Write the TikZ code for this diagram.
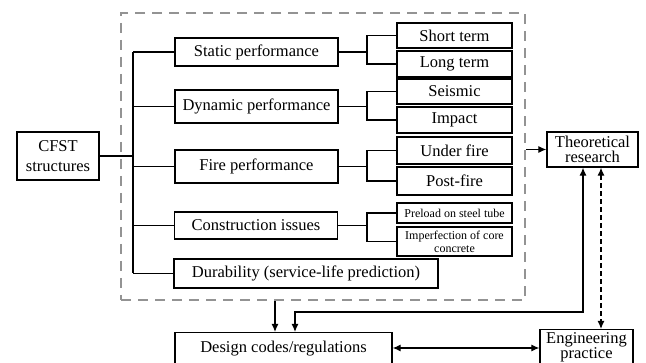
\documentclass[tikz,border=0pt]{standalone}
\usepackage{fontspec}
\setmainfont{Liberation Serif}
\usetikzlibrary{arrows.meta}
\begin{document}
\begin{tikzpicture}[x=1pt,y=-1pt,
  box/.style={draw, line width=1.3pt, inner sep=0pt, align=center, font=\fontsize{16.5}{16}\selectfont},
  sbox/.style={draw, line width=1.3pt, inner sep=0pt, align=center, font=\fontsize{12}{13}\selectfont},
  conn/.style={line width=1.1pt},
  arr/.style={line width=1.2pt, -{Latex[length=8pt,width=7pt]}},
  darr/.style={line width=1.2pt, {Latex[length=8pt,width=7pt]}-{Latex[length=8pt,width=7pt]}},
  grpbox/.style={draw=gray!85, line width=1.8pt, dash pattern=on 10pt off 7pt, inner sep=0pt}
]
\useasboundingbox (0,0) rectangle (646,363);
\clip (0,0) rectangle (646,363);
% group
\node[grpbox, minimum width=404pt, minimum height=287pt] (grp) at (323,156.5) {};
% main boxes
\node[box, minimum width=82pt, minimum height=48pt, font=\fontsize{16.5}{20}\selectfont] (cfst) at (58,156) {CFST\\structures};
\node[box, minimum width=163pt, minimum height=28pt] (stat) at (256.5,52) {Static performance};
\node[box, minimum width=163pt, minimum height=33pt] (dyn) at (256.5,106.5) {Dynamic performance};
\node[box, minimum width=163pt, minimum height=33pt] (fire) at (256.5,166.5) {Fire performance};
\node[box, minimum width=163pt, minimum height=27pt] (cons) at (256,225.5) {Construction issues};
\node[box, minimum width=264pt, minimum height=29pt] (dur) at (306,273.5) {Durability (service-life prediction)};
% sub boxes
\node[box, minimum width=115pt, minimum height=25pt] (st) at (454.5,35.5) {Short term};
\node[box, minimum width=115pt, minimum height=26pt] (lt) at (454.5,64) {Long term};
\node[box, minimum width=115pt, minimum height=25pt] (seis) at (454.5,91.5) {Seismic};
\node[box, minimum width=115pt, minimum height=26pt] (imp) at (454.5,120) {Impact};
\node[box, minimum width=115pt, minimum height=27pt] (uf) at (454.5,150.5) {Under fire};
\node[box, minimum width=115pt, minimum height=28pt] (pf) at (454.5,181) {Post-fire};
\node[sbox, minimum width=115pt, minimum height=20pt] (pre) at (454.5,213) {Preload on steel tube};
\node[sbox, minimum width=115pt, minimum height=29pt] (impf) at (454.5,241.5) {Imperfection of core\\concrete};
% right and bottom boxes
\node[box, minimum width=91pt, minimum height=35pt, font=\fontsize{16.5}{15}\selectfont] (theo) at (592.5,149.5) {Theoretical\\research};
\node[box, minimum width=217pt, minimum height=40pt, anchor=north] (des) at (283.5,332) {};
\node[font=\fontsize{16.5}{16}\selectfont, anchor=base] (destxt) at (283.5,353) {Design codes/regulations};
\node[box, minimum width=93pt, minimum height=46pt, anchor=north] (eng) at (586.5,329) {};
\node[font=\fontsize{16.5}{14}\selectfont, align=center, anchor=north] (engtxt) at (586.5,329) {Engineering\\practice};
% trunk
\coordinate (tr) at (133,0);
\coordinate (fk) at (367,0);
\draw[conn] (cfst.east) -- (cfst.east -| tr);
\draw[conn] (stat.west -| tr) -- (dur.west -| tr);
\foreach \n in {stat,dyn,fire,cons,dur} \draw[conn] (\n.west -| tr) -- (\n.west);
% forks
\draw[conn] (stat.east) -- (stat.east -| fk);
\draw[conn] (st.west) -| (fk |- st.west) |- (lt.west);
\draw[conn] (dyn.east) -- (dyn.east -| fk);
\draw[conn] (seis.west) -| (fk |- seis.west) |- (imp.west);
\draw[conn] (fire.east) -- (fire.east -| fk);
\draw[conn] (uf.west) -| (fk |- uf.west) |- (pf.west);
\draw[conn] (cons.east) -- (cons.east -| fk);
\draw[conn] (pre.west) -| (fk |- pre.west) |- (impf.west);
% arrows
\draw[arr] (grp.east |- theo.west) -- (theo.west);
\coordinate (a1) at (275,0);
\coordinate (a2) at (295,0);
\coordinate (a3) at (583,0);
\coordinate (a4) at (601,0);
\coordinate (ylev) at (0,312);
\draw[arr] (grp.south -| a1) -- (des.north -| a1);
\draw[darr] (theo.south -| a3) -- (a3 |- ylev) -- (a2 |- ylev) -- (des.north -| a2);
\draw[darr, dash pattern=on 5pt off 3pt] (theo.south -| a4) -- (eng.north -| a4);
\coordinate (ylev2) at (0,348);
\draw[darr] (des.east |- ylev2) -- (eng.west |- ylev2);
\end{tikzpicture}
\end{document}
